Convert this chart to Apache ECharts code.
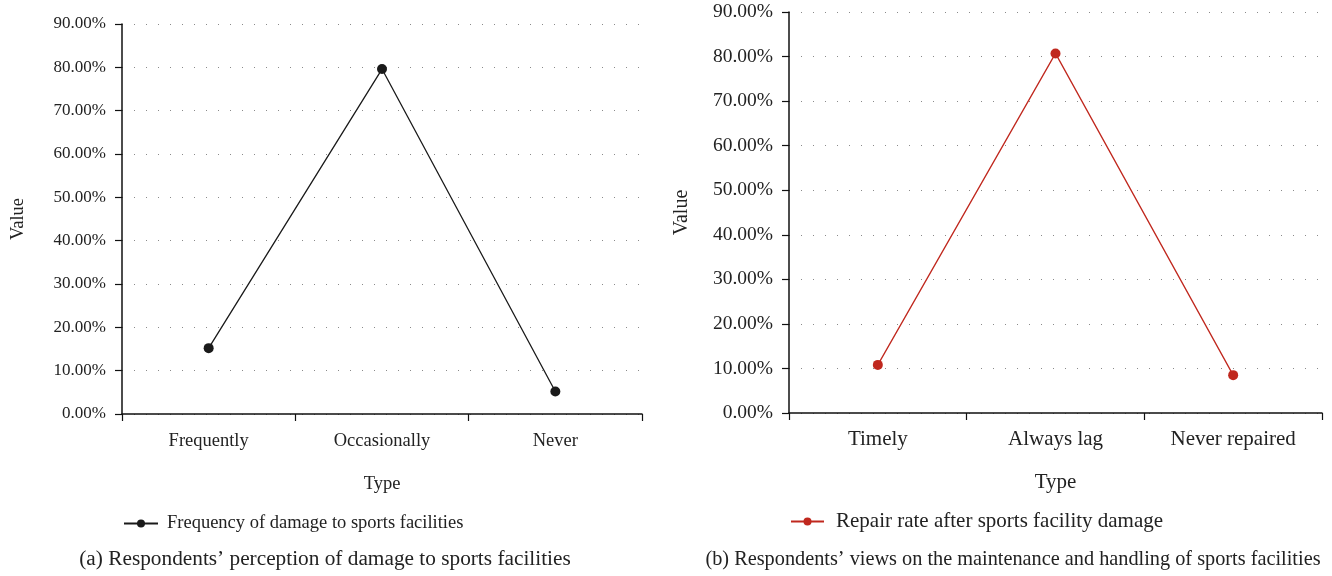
<!DOCTYPE html>
<html>
<head>
<meta charset="utf-8">
<script src="https://cdn.jsdelivr.net/npm/echarts@6/dist/echarts.min.js"></script>
<style>
  html, body { margin: 0; padding: 0; background: #fff; }
  #chart { width: 1332px; height: 576px; }
</style>
</head>
<body>
<div id="chart"></div>
<script>
// Panel (a): perceived frequency of damage
const damageTypes = ['Frequently', 'Occasionally', 'Never'];
const damageValues = [15.2, 79.6, 5.2];
const damageSeriesName = 'Frequency of damage to sports facilities';
const damageCaption = '(a) Respondents\u2019 perception of damage to sports facilities';

// Panel (b): repair after damage
const repairTypes = ['Timely', 'Always lag', 'Never repaired'];
const repairValues = [10.8, 80.7, 8.5];
const repairSeriesName = 'Repair rate after sports facility damage';
const repairCaption = '(b) Respondents\u2019 views on the maintenance and handling of sports facilities';

// Shared value-axis ticks (percent)
const valueMin = 0;
const valueMax = 90;
const valueStep = 10;

const FONT = '"Liberation Serif", "DejaVu Serif", serif';
const TXT = '#222';
const BLACK = '#1a1a1a';
const RED = '#c0281e';

function valueAxis(gridIndex, nameGap, tickSize, nameSize) {
  return {
    type: 'value', gridIndex: gridIndex,
    min: valueMin, max: valueMax, interval: valueStep,
    name: 'Value', nameLocation: 'middle', nameGap: nameGap, nameRotate: 90,
    nameTextStyle: { fontFamily: FONT, fontSize: nameSize, color: TXT },
    axisLine: { show: true, lineStyle: { color: '#111', width: 1.5 } },
    axisTick: { show: true, length: 7, lineStyle: { color: '#111', width: 1.2 } },
    axisLabel: {
      margin: 16, fontFamily: FONT, fontSize: tickSize, color: TXT,
      formatter: v => v.toFixed(2) + '%'
    },
    splitLine: { show: true, lineStyle: { color: '#8a8a8a', width: 1, type: [1, 11] } }
  };
}

function categoryAxis(gridIndex, cats, nameGap, labelMargin, size) {
  return {
    type: 'category', gridIndex: gridIndex, data: cats, boundaryGap: true,
    name: 'Type', nameLocation: 'middle', nameGap: nameGap,
    nameTextStyle: { fontFamily: FONT, fontSize: size, color: TXT },
    axisLine: { show: true, lineStyle: { color: '#111', width: 1.5 } },
    axisTick: { show: true, length: 7, interval: 0, lineStyle: { color: '#111', width: 1.2 } },
    axisLabel: { margin: labelMargin, fontFamily: FONT, fontSize: size, color: TXT, interval: 0 },
    splitLine: { show: false }
  };
}

function lineSeries(name, values, color, idx) {
  return {
    name: name, type: 'line', data: values,
    xAxisIndex: idx, yAxisIndex: idx,
    symbol: 'circle', symbolSize: 10,
    lineStyle: { color: color, width: 1.3 },
    itemStyle: { color: color },
    emphasis: { disabled: true }
  };
}

const chart = echarts.init(document.getElementById('chart'), null, { renderer: 'canvas' });

chart.setOption({
  backgroundColor: '#fff',
  animation: false,
  grid: [
    { left: 122, right: 690, top: 24, bottom: 162 },
    { left: 789, right: 10, top: 12, bottom: 163 }
  ],
  xAxis: [
    categoryAxis(0, damageTypes, 61, 18, 18.5),
    categoryAxis(1, repairTypes, 59, 16, 21)
  ],
  yAxis: [
    valueAxis(0, 94, 17, 18.5),
    valueAxis(1, 97, 19.5, 20)
  ],
  legend: [
    {
      data: [damageSeriesName], left: 118, top: 509,
      itemWidth: 34, itemHeight: 10, itemGap: 8,
      textStyle: { fontFamily: FONT, fontSize: 18.5, color: TXT, padding: [0, 0, 0, 4] },
      selectedMode: false
    },
    {
      data: [repairSeriesName], left: 785, top: 506,
      itemWidth: 33, itemHeight: 10, itemGap: 8,
      textStyle: { fontFamily: FONT, fontSize: 21, color: TXT, padding: [0, 0, 0, 7] },
      selectedMode: false
    }
  ],
  series: [
    lineSeries(damageSeriesName, damageValues, BLACK, 0),
    lineSeries(repairSeriesName, repairValues, RED, 1)
  ],
  graphic: [
    {
      type: 'text', x: 325, y: 559,
      style: { text: damageCaption, fontFamily: FONT, fontSize: 21.3, fill: TXT,
               textAlign: 'center', textVerticalAlign: 'middle' }
    },
    {
      type: 'text', x: 1013, y: 560,
      style: { text: repairCaption, fontFamily: FONT, fontSize: 20.3, fill: TXT,
               textAlign: 'center', textVerticalAlign: 'middle' }
    }
  ]
});
</script>
</body>
</html>
